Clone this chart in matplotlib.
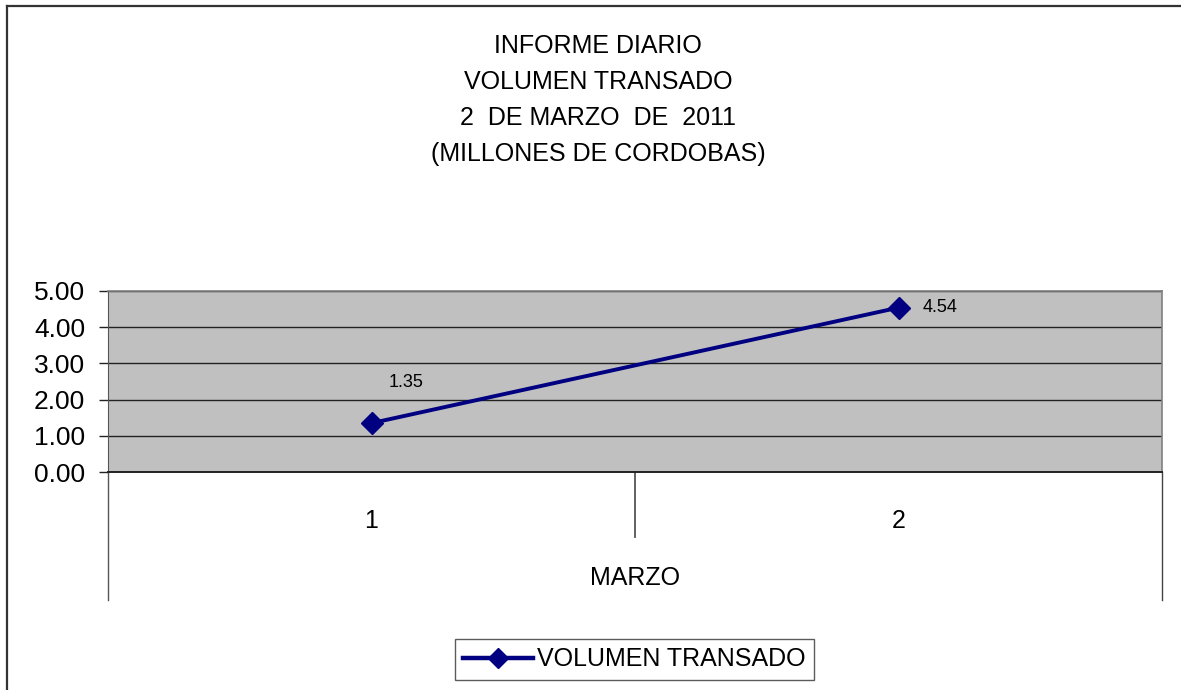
import matplotlib.pyplot as plt
from matplotlib.lines import Line2D

plt.rcParams['font.family'] = ['Liberation Sans', 'DejaVu Sans']

# Data
dias = [1, 2]
dia_labels = ['1', '2']
volumen = [1.35, 4.54]
y_ticks = [0, 1, 2, 3, 4, 5]
titulo = ['INFORME DIARIO', 'VOLUMEN TRANSADO',
          '2  DE MARZO  DE  2011', '(MILLONES DE CORDOBAS)']
serie = 'VOLUMEN TRANSADO'
mes = 'MARZO'

fig = plt.figure(figsize=(11.81, 6.90), dpi=100)
ax = fig.add_axes([108 / 1181, 1 - 472 / 690, 1054 / 1181, 181 / 690])

# outer chart frame (left and top only visible)
fig.add_artist(Line2D([7 / 1181, 7 / 1181], [0, 1 - 6 / 690], color='#333333', lw=1.6))
fig.add_artist(Line2D([7 / 1181, 1], [1 - 6 / 690, 1 - 6 / 690], color='#333333', lw=1.6))

# title
for i, line in enumerate(titulo):
    fig.text(598 / 1181, 1 - (46 + 36 * i) / 690, line, ha='center', va='center',
             fontsize=18)

ax.set_facecolor('#C0C0C0')
ax.plot(dias, volumen, color='#000080', lw=2.8, marker='D', markersize=11.5,
        label=serie, zorder=3)

# data labels
offsets = [(25, 29), (30, 0)]
for x, v, off in zip(dias, volumen, offsets):
    ax.annotate(f'{v:.2f}', (x, v), xytext=off, textcoords='offset points',
                ha='center', va='center', fontsize=13)

ax.set_xlim(0.5, 2.5)
ax.set_ylim(0, 5)
ax.set_yticks(y_ticks)
ax.set_yticklabels([f'{t:.2f}' for t in y_ticks], fontsize=19)
ax.tick_params(axis='y', direction='out', length=6.5, width=1, color='#222222', pad=10)
ax.grid(axis='y', color='#222222', lw=1)
ax.set_axisbelow(True)

ax.set_xticks(dias)
ax.set_xticklabels(dia_labels, fontsize=18)
ax.tick_params(axis='x', length=0, pad=27)

for s in ['top', 'right']:
    ax.spines[s].set_color('#808080')
    ax.spines[s].set_linewidth(1.2)
ax.spines['left'].set_color('#555555')
ax.spines['bottom'].set_color('#222222')
ax.spines['bottom'].set_linewidth(1.4)

# multi-level category axis divider lines
ax.plot([0, 0], [0, -0.707], transform=ax.transAxes, color='#555555', lw=1, clip_on=False)
ax.plot([1, 1], [0, -0.707], transform=ax.transAxes, color='#444444', lw=1, clip_on=False)
ax.plot([0.5, 0.5], [0, -0.36], transform=ax.transAxes, color='#555555', lw=1.3, clip_on=False)

ax.text(0.5, -0.586, mes, transform=ax.transAxes, ha='center', va='center', fontsize=18)

leg = fig.legend(loc='center', bbox_to_anchor=(634.5 / 1181, 1 - 659.5 / 690),
                 fontsize=18, frameon=True, fancybox=False, handlelength=2.8,
                 handletextpad=0.15, borderpad=0.35, borderaxespad=0,
                 markerscale=0.85)
leg.get_frame().set_edgecolor('#333333')
leg.get_frame().set_linewidth(1)
for h in leg.legend_handles:
    h.set_linewidth(3.2)

fig.savefig('out.png', dpi=100)
